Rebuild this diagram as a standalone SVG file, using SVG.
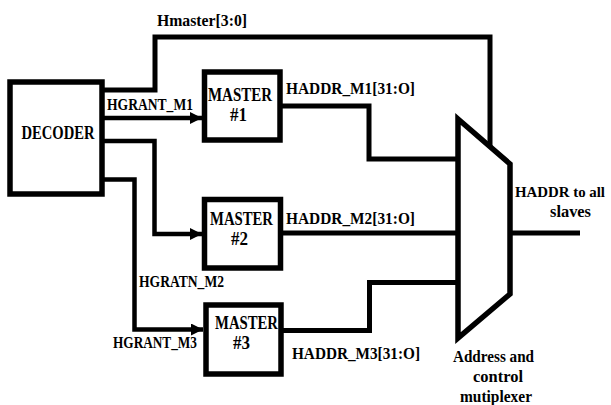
<svg xmlns="http://www.w3.org/2000/svg" width="611" height="405" viewBox="0 0 611 405">
<style>
.box{fill:#fff;stroke:#000;stroke-width:5.5}
.wire{fill:none;stroke:#000;stroke-width:5;stroke-linejoin:miter}
.arr{fill:none;stroke:#000;stroke-width:4.5}
text{font-family:'Liberation Serif','DejaVu Serif','Times New Roman',serif;font-weight:bold;fill:#000}
.lbl{font-size:16px}
.big{font-size:18px}
</style>
<defs>
<marker id="ah" markerUnits="userSpaceOnUse" markerWidth="13" markerHeight="13" refX="12" refY="6" orient="auto">
<path d="M0,0 L12,6 L0,12 z" fill="#000"/>
</marker>
</defs>
<rect width="611" height="405" fill="#fff"/>
<g id="connectors">
<polyline class="wire" points="102,90 155,90 155,37 490,37 490,147"/>
<line class="arr" x1="102" y1="118" x2="202" y2="118" marker-end="url(#ah)"/>
<polyline class="arr" points="102,141 154.5,141 154.5,234 202,234" marker-end="url(#ah)"/>
<polyline class="arr" points="102,179.5 134.5,179.5 134.5,329.5 203,329.5" marker-end="url(#ah)"/>
<polyline class="wire" points="280,106 369,106 369,159 458,159"/>
<line class="wire" x1="280" y1="233" x2="458" y2="233"/>
<polyline class="wire" points="281,330.5 369.5,330.5 369.5,282.5 458,282.5"/>
<line class="wire" x1="510" y1="233" x2="580" y2="233"/>
</g>
<g id="decoder">
<rect class="box" x="10" y="82" width="92" height="112" stroke-width="5"/>
<text class="big" x="21.5" y="138.5" textLength="73" lengthAdjust="spacingAndGlyphs">DECODER</text>
</g>
<g id="master1">
<rect class="box" x="204.5" y="72" width="75.5" height="68"/>
<text class="big" x="208" y="100.5" textLength="64" lengthAdjust="spacingAndGlyphs">MASTER</text>
<text class="big" x="230" y="120.5" textLength="17" lengthAdjust="spacingAndGlyphs">#1</text>
</g>
<g id="master2">
<rect class="box" x="204.5" y="199.5" width="76" height="68.5"/>
<text class="big" x="210" y="225" textLength="63" lengthAdjust="spacingAndGlyphs">MASTER</text>
<text class="big" x="231" y="245" textLength="17" lengthAdjust="spacingAndGlyphs">#2</text>
</g>
<g id="master3">
<rect class="box" x="206" y="305" width="75" height="69"/>
<text class="big" x="215" y="328.5" textLength="63" lengthAdjust="spacingAndGlyphs">MASTER</text>
<text class="big" x="233" y="348.5" textLength="17" lengthAdjust="spacingAndGlyphs">#3</text>
</g>
<g id="mux">
<polygon class="box" points="458,119 510,164 510,294 458,338"/>
<text class="lbl" x="453" y="361.5" textLength="81" lengthAdjust="spacingAndGlyphs">Address and</text>
<text class="lbl" x="473" y="381.5" textLength="50" lengthAdjust="spacingAndGlyphs">control</text>
<text class="lbl" x="460" y="401.5" textLength="72" lengthAdjust="spacingAndGlyphs">mutiplexer</text>
</g>
<g id="labels">
<text class="lbl" x="157" y="26" textLength="90" lengthAdjust="spacingAndGlyphs">Hmaster[3:0]</text>
<text class="lbl" x="107" y="109.5" textLength="86" lengthAdjust="spacingAndGlyphs">HGRANT_M1</text>
<text class="lbl" x="139" y="286.5" textLength="85" lengthAdjust="spacingAndGlyphs">HGRATN_M2</text>
<text class="lbl" x="113" y="347.5" textLength="84" lengthAdjust="spacingAndGlyphs">HGRANT_M3</text>
<text class="lbl" x="286" y="94" textLength="129" lengthAdjust="spacingAndGlyphs">HADDR_M1[31:O]</text>
<text class="lbl" x="286" y="223.5" textLength="129" lengthAdjust="spacingAndGlyphs">HADDR_M2[31:O]</text>
<text class="lbl" x="292" y="358.5" textLength="128" lengthAdjust="spacingAndGlyphs">HADDR_M3[31:O]</text>
<text class="lbl" x="515" y="197" font-size="15" style="font-size:15px" textLength="90" lengthAdjust="spacingAndGlyphs">HADDR to all</text>
<text class="lbl" x="550" y="217" textLength="41" lengthAdjust="spacingAndGlyphs">slaves</text>
</g>
</svg>
